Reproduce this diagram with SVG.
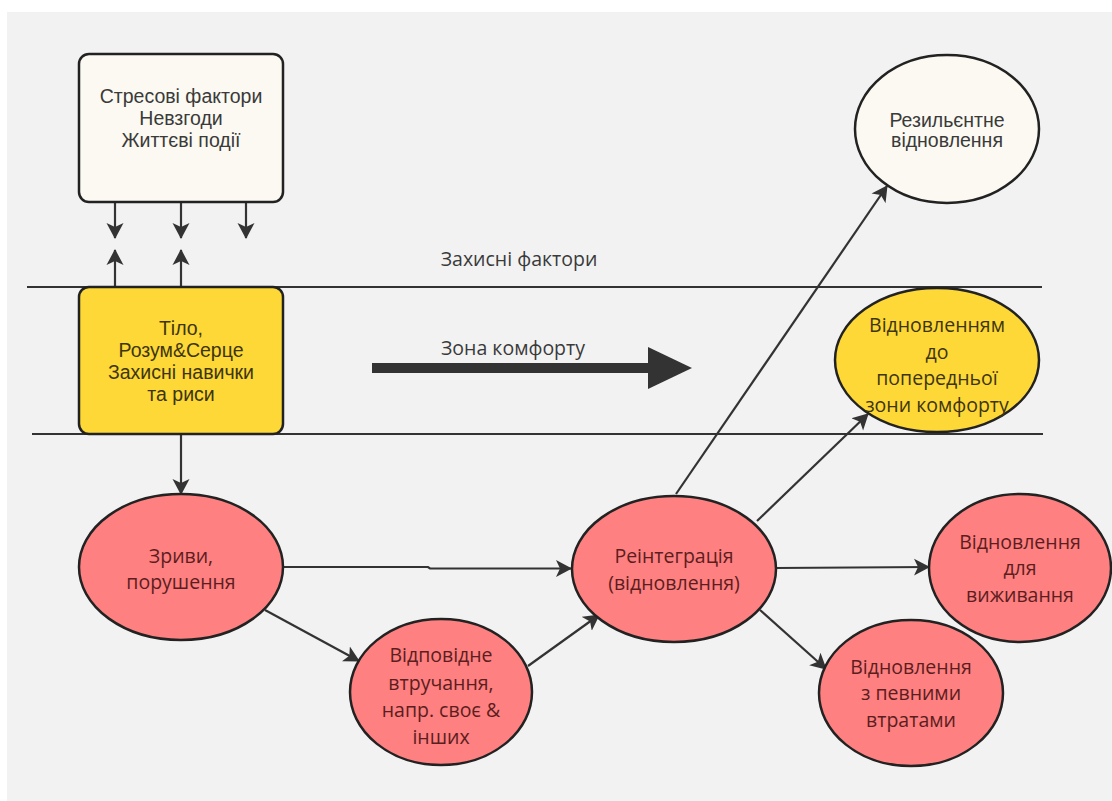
<svg xmlns="http://www.w3.org/2000/svg" width="1112" height="801" viewBox="0 0 1112 801">
<defs>
<marker id="ah" viewBox="0 0 16 18" refX="15" refY="9" markerWidth="16" markerHeight="18" markerUnits="userSpaceOnUse" orient="auto">
<path d="M0,0.5 L16,9 L0,17.5 L4,9 Z" fill="#333"/>
</marker>
<style>
.ln{stroke:#333;stroke-width:2;fill:none}
.ar{stroke:#333;stroke-width:2.2;fill:none;marker-end:url(#ah)}
.nd{stroke:#222;stroke-width:2.5}
.cream{fill:#fbf9f1}
.yel{fill:#fdd836}
.pink{fill:#fe8081}
.ta{font-family:"Liberation Sans",Arial,sans-serif;font-size:19.5px;text-anchor:middle}
.to{font-family:"Open Sans","Noto Sans",sans-serif;font-size:19.5px;text-anchor:middle}
.c1{fill:#3a3a3a}
.c2{fill:#3d3510}
.c3{fill:#5b1d1d}
</style>
</defs>
<rect x="0" y="0" width="1112" height="801" fill="#ffffff"/>
<rect x="7" y="12" width="1105" height="789" fill="#f2f2f2"/>

<g id="bands">
<line class="ln" x1="27" y1="287" x2="1042" y2="287"/>
<line class="ln" x1="32" y1="434" x2="1043" y2="434"/>
<text class="to c1" x="519" y="266">Захисні фактори</text>
<text class="to c1" x="513" y="355">Зона комфорту</text>
<rect x="372" y="363" width="278" height="10" fill="#333"/>
<polygon points="648,347 692,368 648,389" fill="#333"/>
</g>

<g id="connectors">
<line class="ar" x1="115" y1="202" x2="115" y2="238"/>
<line class="ar" x1="181" y1="202" x2="181" y2="238"/>
<line class="ar" x1="246" y1="202" x2="246" y2="238"/>
<line class="ar" x1="115" y1="287" x2="115" y2="250"/>
<line class="ar" x1="181" y1="287" x2="181" y2="250"/>
<line class="ar" x1="181" y1="434" x2="181" y2="494"/>
<path class="ar" d="M283,567 H428 L430,568.5 H571"/>
<line class="ar" x1="265" y1="610" x2="359" y2="661"/>
<line class="ar" x1="528" y1="666" x2="599" y2="615"/>
<line class="ar" x1="776" y1="568" x2="929" y2="567"/>
<line class="ar" x1="760" y1="610" x2="826" y2="669"/>
<line class="ar" x1="676" y1="494" x2="887" y2="186"/>
<line class="ar" x1="757" y1="521" x2="868" y2="414"/>
</g>

<g id="stress">
<rect class="nd cream" x="79" y="54" width="204" height="148" rx="10"/>
<text class="ta c1" x="181" y="103">Стресові фактори</text>
<text class="ta c1" x="181" y="125">Невзгоди</text>
<text class="ta c1" x="181" y="147">Життєві події</text>
</g>

<g id="body">
<rect class="nd yel" x="79" y="287" width="204" height="147" rx="10"/>
<text class="ta c2" x="181" y="335">Тіло,</text>
<text class="ta c2" x="181" y="357">Розум&amp;Серце</text>
<text class="ta c2" x="181" y="379">Захисні навички</text>
<text class="ta c2" x="181" y="401">та риси</text>
</g>

<g id="resilient">
<ellipse class="nd cream" cx="947" cy="129" rx="92" ry="74"/>
<text class="ta c1" x="947" y="127">Резильєнтне</text>
<text class="ta c1" x="947" y="147">відновлення</text>
</g>

<g id="prevzone">
<ellipse class="nd yel" cx="937" cy="360" rx="102" ry="72"/>
<text class="to c2" x="937" y="332">Відновленням</text>
<text class="to c2" x="937" y="359">до</text>
<text class="to c2" x="937" y="385">попередньої</text>
<text class="to c2" x="937" y="412">зони комфорту</text>
</g>

<g id="breakdown">
<ellipse class="nd pink" cx="181" cy="567" rx="102" ry="73"/>
<text class="to c3" x="181" y="563">Зриви,</text>
<text class="to c3" x="181" y="589">порушення</text>
</g>

<g id="intervention">
<ellipse class="nd pink" cx="441" cy="692" rx="91" ry="73"/>
<text class="to c3" x="441" y="662">Відповідне</text>
<text class="to c3" x="441" y="690">втручання,</text>
<text class="to c3" x="441" y="717">напр. своє &amp;</text>
<text class="to c3" x="441" y="744">інших</text>
</g>

<g id="reintegration">
<ellipse class="nd pink" cx="674" cy="569" rx="102" ry="73"/>
<text class="to c3" x="674" y="563">Реінтеграція</text>
<text class="to c3" x="674" y="590">(відновлення)</text>
</g>

<g id="survival">
<ellipse class="nd pink" cx="1020" cy="568" rx="91" ry="74"/>
<text class="to c3" x="1020" y="549">Відновлення</text>
<text class="to c3" x="1020" y="575">для</text>
<text class="to c3" x="1020" y="602">виживання</text>
</g>

<g id="losses">
<ellipse class="nd pink" cx="911" cy="693" rx="92" ry="73"/>
<text class="to c3" x="911" y="674">Відновлення</text>
<text class="to c3" x="911" y="700">з певними</text>
<text class="to c3" x="911" y="727">втратами</text>
</g>
</svg>
